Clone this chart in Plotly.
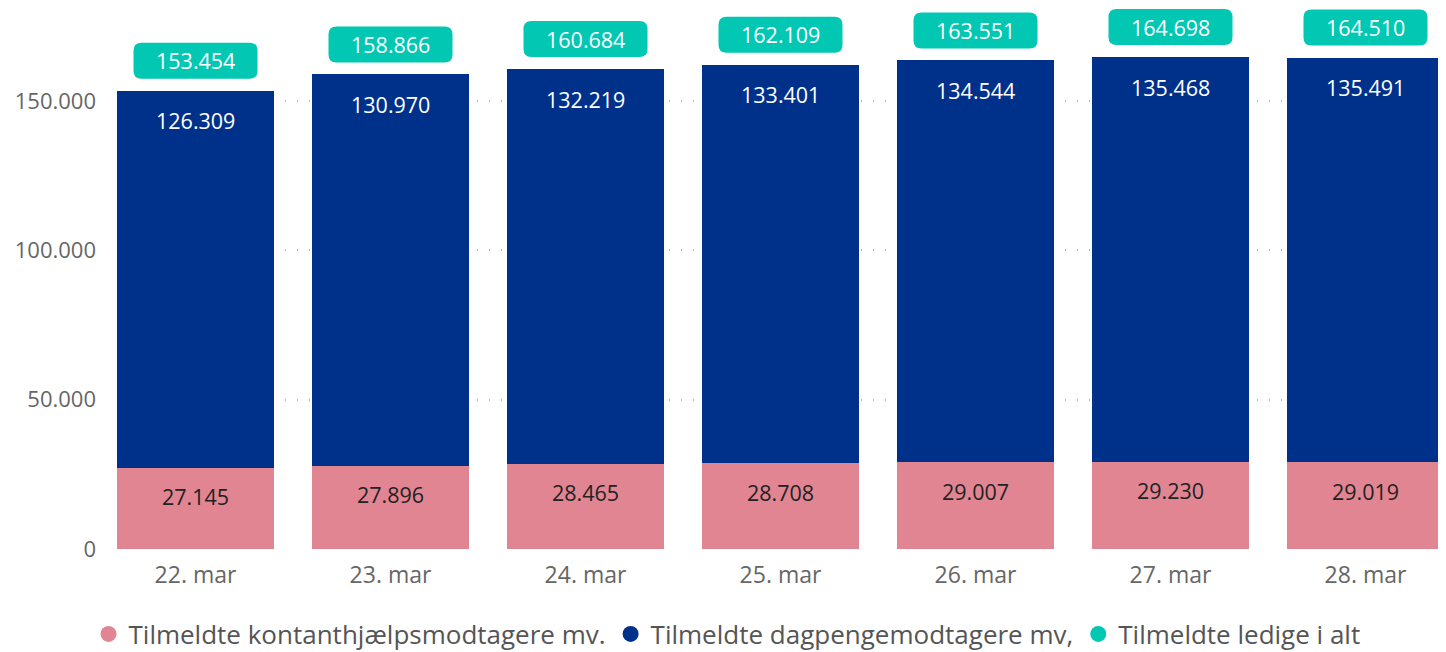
import plotly.graph_objects as go

categories = ["22. mar", "23. mar", "24. mar", "25. mar", "26. mar", "27. mar", "28. mar"]
kontanthjaelp = [27145, 27896, 28465, 28708, 29007, 29230, 29019]
dagpenge = [126309, 130970, 132219, 133401, 134544, 135468, 135491]
ledige_i_alt = [153454, 158866, 160684, 162109, 163551, 164698, 164510]
y_tickvals = [0, 50000, 100000, 150000]

PINK = "#E18593"
BLUE = "#00318A"
TEAL = "#01C7B3"
FONT = "Open Sans"


def fmt(v):
    return f"{v:,}".replace(",", ".")


fig = go.Figure()
fig.add_trace(go.Bar(x=categories, y=kontanthjaelp, marker_color=PINK, marker_line_width=0,
                     showlegend=False, hoverinfo="skip"))
fig.add_trace(go.Bar(x=categories, y=dagpenge, marker_color=BLUE, marker_line_width=0,
                     showlegend=False, hoverinfo="skip"))

# legend-only entries with circular markers
for name, col in [("Tilmeldte kontanthjælpsmodtagere mv.", PINK),
                  ("Tilmeldte dagpengemodtagere mv,", BLUE),
                  ("Tilmeldte ledige i alt", TEAL)]:
    fig.add_trace(go.Scatter(x=[None], y=[None], mode="markers", name=name,
                             marker=dict(symbol="circle", size=20, color=col)))

annotations = []
shapes = []
for i, c in enumerate(categories):
    k = kontanthjaelp[i]
    d = dagpenge[i]
    t = ledige_i_alt[i]
    top = k + d
    annotations.append(dict(x=c, y=k, text=fmt(k), showarrow=False, yanchor="middle",
                            yshift=-29, font=dict(family=FONT, size=21.5, color="#222222")))
    annotations.append(dict(x=c, y=top, text=fmt(d), showarrow=False, yanchor="middle",
                            yshift=-30, font=dict(family=FONT, size=21.5, color="white")))
    # rounded box for total
    w, h, r, gap = 124, 36, 8, 12
    x0, x1 = -w / 2, w / 2
    y0, y1 = gap, gap + h
    path = (f"M {x0 + r},{y0} L {x1 - r},{y0} Q {x1},{y0} {x1},{y0 + r} "
            f"L {x1},{y1 - r} Q {x1},{y1} {x1 - r},{y1} L {x0 + r},{y1} "
            f"Q {x0},{y1} {x0},{y1 - r} L {x0},{y0 + r} Q {x0},{y0} {x0 + r},{y0} Z")
    shapes.append(dict(type="path", xref="x", yref="y", xsizemode="pixel", ysizemode="pixel",
                       xanchor=c, yanchor=top, path=path, fillcolor=TEAL,
                       line=dict(width=0), layer="above"))
    annotations.append(dict(x=c, y=top, text=fmt(t), showarrow=False, yanchor="middle",
                            yshift=gap + h / 2, font=dict(family=FONT, size=21.5, color="white")))

fig.update_layout(
    width=1438, height=644,
    margin=dict(l=109, r=2, t=0, b=103, autoexpand=False),
    barmode="stack", bargap=0.195,
    plot_bgcolor="white", paper_bgcolor="white",
    font=dict(family=FONT, color="#666666"),
    annotations=annotations, shapes=shapes,
    legend=dict(orientation="h", xref="container", yref="container", x=0.5, xanchor="center",
                y=1 - 626 / 644, yanchor="middle", font=dict(size=26, color="#555555"),
                itemwidth=30, traceorder="normal", tracegroupgap=0),
    showlegend=True,
)
fig.update_xaxes(range=[-0.4026, 6.4026], showgrid=False, showline=False, ticks="",
                 tickfont=dict(size=23, color="#666666"), ticklabelstandoff=10)
fig.update_yaxes(range=[0, 181120], tickvals=y_tickvals, ticktext=[fmt(v) for v in y_tickvals],
                 showgrid=True, gridcolor="#BBBBBB", griddash="1px,11px", gridwidth=1.5,
                 zeroline=False, showline=False, ticks="",
                 tickfont=dict(size=22, color="#666666"), ticklabelstandoff=20)

fig.write_html("out.html")
